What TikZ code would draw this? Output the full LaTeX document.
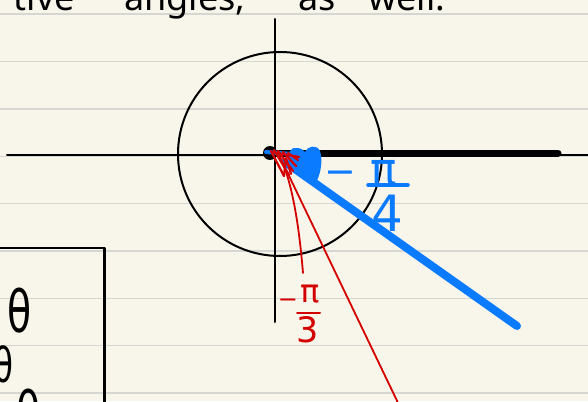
\documentclass[tikz,border=0pt]{standalone}
\usepackage{fontspec}
\usepackage{graphicx}
\setmainfont{Noto Sans}
\newfontfamily\hand{DejaVu Sans}
\definecolor{paper}{RGB}{248,246,234}
\definecolor{ruled}{RGB}{214,214,210}
\definecolor{penblue}{RGB}{10,122,255}
\definecolor{penred}{RGB}{212,0,0}
\begin{document}
\begin{tikzpicture}[x=1pt,y=-1pt,line cap=round,line join=round,
  ruleline/.style={ruled,line width=1.3pt},
  ink/.style={black,line width=2pt},
  bluepen/.style={penblue,line width=8pt},
  redpen/.style={penred,line width=1.8pt},
  word/.style={inner sep=0pt,anchor=base west,font=\fontsize{36}{36}\selectfont},
  glyph/.style={inner sep=0pt,anchor=center}]
\useasboundingbox (0,0) rectangle (588,401);
\fill[paper] (0,0) rectangle (588,401);
\begin{scope}
\clip (0,0) rectangle (588,401);
% ruled lines
\foreach \yy in {14,61.5,109,156.3,203.6,251,298.3,345.6,393}
  \draw[ruleline] (-2,\yy) -- (590,\yy);
% heading text (cut off at the top, as in the page it is taken from)
\node[word,anchor=base east] (w1) at (75,11) {tive};
\node[word] (w2) at (124,11) {angles,};
\node[word] (w3) at (298,11) {as};
\node[word] (w4) at (368,11) {well.};
% axes and circle
\draw[ink] (7,155) -- (588,155);
\draw[ink] (275,19) -- (275,322);
\draw[ink] (280,154) circle[radius=102];
% box on the left
\draw[black,line width=2.2pt,line cap=butt] (-5,248) -- (104.5,248) -- (104.5,410);
\node[glyph,font=\hand\fontsize{58}{58}\selectfont] (t1) at (20,311) {\scalebox{0.68}[1]{θ}};
\node[glyph,font=\hand\fontsize{48}{48}\selectfont] (t2) at (3,364) {\scalebox{0.68}[1]{θ}};
\node[glyph,font=\hand\fontsize{58}{58}\selectfont] (t3) at (29,412) {\scalebox{0.68}[1]{θ}};
% origin and thick positive ray
\fill[black] (270,153) circle[radius=7];
\draw[black,line width=7pt] (270,153) -- (558,153);
% blue ray and blob
\draw[bluepen] (285,162) -- (517,326);
\draw[penblue,line width=4pt] (266,152) -- (292,154);
\fill[penblue] (291,162)
  .. controls (287,155) and (289,147) .. (297,148)
  .. controls (301,148) and (303,150) .. (305,152)
  .. controls (307,146) and (317,144) .. (320,151)
  .. controls (323,160) and (321,175) .. (315,184)
  .. controls (308,179) and (298,174) .. (291,162) -- cycle;
% blue label -pi/4
\node[glyph,text=penblue,font=\hand\fontsize{38}{38}\selectfont] (bm) at (340,178) {−};
\node[glyph,text=penblue,font=\hand\fontsize{44}{44}\selectfont] (bpi) at (384,173) {π};
\draw[penblue,line width=3.5pt] (368,185) -- (408,185);
\node[glyph,text=penblue,font=\hand\fontsize{50}{50}\selectfont] (b4) at (387,213) {4};
% red ray, arc and arrow scribble
\draw[redpen] (279,155) -- (400,407);
\draw[redpen] (283,163) .. controls (293,190) and (299,225) .. (303,273);
\draw[redpen,line width=2.2pt] (271,151) -- (284,176);
\draw[redpen,line width=2.2pt] (274,150) -- (289,175);
\draw[redpen,line width=2.2pt] (278,151) -- (293,171);
\draw[redpen,line width=2.2pt] (283,152) -- (296,166);
\draw[redpen,line width=2.2pt] (288,153) -- (298,160);
\draw[redpen,line width=2.2pt] (271,152) -- (299,157);
\draw[redpen,line width=2.2pt] (284,176) -- (286,158) -- (291,174);
% red label -pi/3
\node[glyph,text=penred,font=\hand\fontsize{24}{24}\selectfont] (rm) at (288,303) {−};
\node[glyph,text=penred,font=\hand\fontsize{32}{32}\selectfont] (rpi) at (310,294) {π};
\draw[penred,line width=2pt] (297,313) -- (320,313);
\node[glyph,text=penred,font=\hand\fontsize{35}{35}\selectfont] (r3) at (308,330) {3};
\end{scope}
\end{tikzpicture}
\end{document}
